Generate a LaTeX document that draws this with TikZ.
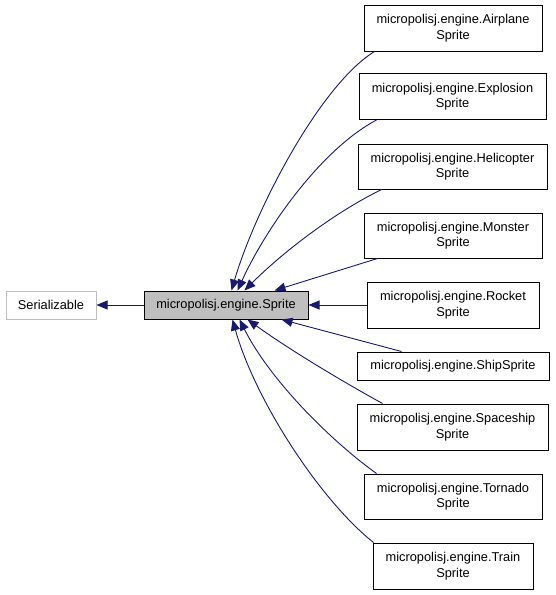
\documentclass[tikz,border=0pt]{standalone}
\usepackage{fontspec}
\setmainfont{Liberation Sans}
\usetikzlibrary{arrows.meta}
\definecolor{edgeblue}{HTML}{191970}
\definecolor{boxgray}{HTML}{BFBFBF}
\begin{document}
\begin{tikzpicture}[x=1pt,y=-1pt,
  cls/.style={draw=black,line width=1pt,fill=white,inner sep=0pt,align=center,
    font=\fontsize{12.8}{15.5}\selectfont},
  ext/.style={cls,draw=boxgray},
  base/.style={cls,fill=boxgray},
  inh/.style={draw=edgeblue,line width=0.9pt,-{Triangle[length=11pt,width=9pt]},fill=none}]
\path[use as bounding box] (0,0) rectangle (555,595);
\node[ext,minimum width=90pt,minimum height=28pt] (ser) at (51,305) {Serializable};
\node[base,minimum width=164pt,minimum height=28pt] (spr) at (226,305) {micropolisj.engine.Sprite};
\node[cls,minimum width=178pt,minimum height=46pt] (air) at (453,28) {micropolisj.engine.Airplane\\Sprite};
\node[cls,minimum width=187pt,minimum height=46pt] (exp) at (452.5,96.5) {micropolisj.engine.Explosion\\Sprite};
\node[cls,minimum width=189pt,minimum height=45pt] (hel) at (452.5,166.5) {micropolisj.engine.Helicopter\\Sprite};
\node[cls,minimum width=178pt,minimum height=45pt] (mon) at (453,235.5) {micropolisj.engine.Monster\\Sprite};
\node[cls,minimum width=172pt,minimum height=46pt] (roc) at (453,305) {micropolisj.engine.Rocket\\Sprite};
\node[cls,minimum width=192pt,minimum height=28pt] (shp) at (453,366) {micropolisj.engine.ShipSprite};
\node[cls,minimum width=191pt,minimum height=46pt] (spc) at (452.5,427) {micropolisj.engine.Spaceship\\Sprite};
\node[cls,minimum width=178pt,minimum height=45pt] (tor) at (453,496.5) {micropolisj.engine.Tornado\\Sprite};
\node[cls,minimum width=160pt,minimum height=46pt] (trn) at (453,566) {micropolisj.engine.Train\\Sprite};

\draw[inh] (spr.west) -- (ser.east);
\draw[inh] ([xshift=11pt]air.south west) .. controls (320,85) and (255,210) .. ([xshift=88pt]spr.north west);
\draw[inh] ([xshift=18pt]exp.south west) .. controls (320,150) and (265,230) .. ([xshift=94pt]spr.north west);
\draw[inh] ([xshift=24pt]hel.south west) .. controls (330,215) and (280,255) .. ([xshift=101pt]spr.north west);
\draw[inh] ([xshift=14pt]mon.south west) -- ([xshift=131pt]spr.north west);
\draw[inh] (roc.west) -- (spr.east);
\draw[inh] ([xshift=45pt]shp.north west) -- ([xshift=138pt]spr.south west);
\draw[inh] ([xshift=26pt]spc.north west) .. controls (340,380) and (290,350) .. ([xshift=104pt]spr.south west);
\draw[inh] ([xshift=13pt]tor.north west) .. controls (330,440) and (270,380) .. ([xshift=96pt]spr.south west);
\draw[inh] ([xshift=1pt]trn.north west) .. controls (320,500) and (255,400) .. ([xshift=89pt]spr.south west);
\end{tikzpicture}
\end{document}
